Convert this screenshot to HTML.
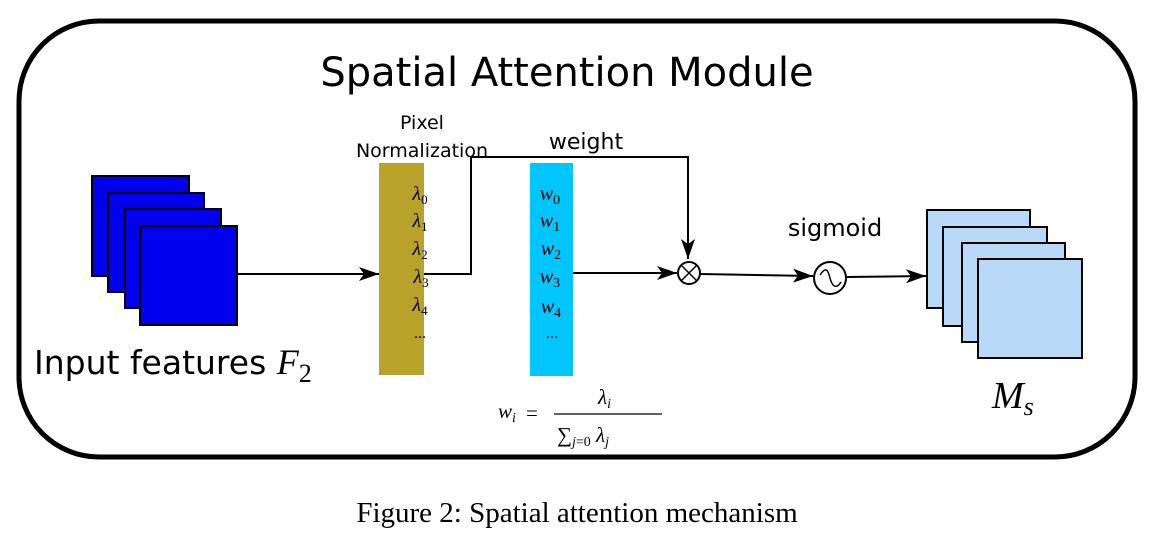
<!DOCTYPE html>
<html><head><meta charset="utf-8"><style>
body{margin:0;background:#fff;width:1157px;height:536px;overflow:hidden}
</style></head><body>
<svg width="1157" height="536" viewBox="0 0 1157 536" xmlns="http://www.w3.org/2000/svg">
<defs><marker id="a" markerWidth="10" markerHeight="10" refX="9" refY="5" orient="auto" markerUnits="userSpaceOnUse"><path d="M0,0 L10,5 L0,10 Z" fill="#000"/></marker>
<marker id="b" viewBox="0 0 20 14" markerWidth="22" markerHeight="14" refX="20" refY="7" orient="auto" markerUnits="userSpaceOnUse"><path d="M0,0 L20,7 L0,14 L5,7 Z" fill="#000"/></marker></defs>
<rect x="19" y="21" width="1116" height="436" rx="80" fill="none" stroke="#000" stroke-width="5"/>
<text x="567" y="86" font-family="DejaVu Sans, sans-serif" font-size="40" text-anchor="middle">Spatial Attention Module</text>
<g fill="#0000ee" stroke="#000" stroke-width="2">
<rect x="92" y="176" width="97" height="100"/><rect x="108" y="193" width="96" height="99"/><rect x="125" y="209" width="96" height="99"/><rect x="140" y="226" width="97" height="99"/></g>
<text x="34" y="374" font-family="DejaVu Sans, sans-serif" font-size="33">Input features <tspan font-family="Liberation Serif, serif" font-style="italic" font-size="36">F</tspan><tspan font-family="Liberation Serif, serif" font-size="26" dy="8">2</tspan></text>
<line x1="237" y1="274" x2="379" y2="274" stroke="#000" stroke-width="2" marker-end="url(#b)"/>
<rect x="379" y="163" width="45" height="212" fill="#b9a22a"/>
<text x="422" y="129" font-family="DejaVu Sans, sans-serif" font-size="19" text-anchor="middle">Pixel</text>
<text x="422" y="157" font-family="DejaVu Sans, sans-serif" font-size="19" text-anchor="middle">Normalization</text>
<g font-family="Liberation Serif, serif" font-style="italic" font-size="20" text-anchor="middle">
<text x="420" y="200">λ<tspan font-style="normal" font-size="13" dy="4">0</tspan></text>
<text x="420" y="227">λ<tspan font-style="normal" font-size="13" dy="4">1</tspan></text>
<text x="420" y="255">λ<tspan font-style="normal" font-size="13" dy="4">2</tspan></text>
<text x="421" y="283">λ<tspan font-style="normal" font-size="13" dy="4">3</tspan></text>
<text x="420" y="311">λ<tspan font-style="normal" font-size="13" dy="4">4</tspan></text>
<text x="420" y="338" font-style="normal" font-size="16">...</text>
<text x="548" y="200">w<tspan font-style="normal" font-size="14" dy="4">0</tspan></text>
<text x="548" y="227">w<tspan font-style="normal" font-size="14" dy="4">1</tspan></text>
<text x="549" y="255">w<tspan font-style="normal" font-size="14" dy="4">2</tspan></text>
<text x="548" y="283">w<tspan font-style="normal" font-size="14" dy="4">3</tspan></text>
<text x="549" y="313">w<tspan font-style="normal" font-size="14" dy="4">4</tspan></text>
<text x="550" y="338" font-style="normal" font-size="16">...</text>
</g>
<rect x="530" y="163" width="43" height="213" fill="#00c5ff"/>
<g font-family="Liberation Serif, serif" font-style="italic" font-size="20" text-anchor="middle">
<text x="550" y="200">w<tspan font-style="normal" font-size="14" dy="4">0</tspan></text>
<text x="550" y="227">w<tspan font-style="normal" font-size="14" dy="4">1</tspan></text>
<text x="551" y="255">w<tspan font-style="normal" font-size="14" dy="4">2</tspan></text>
<text x="550" y="283">w<tspan font-style="normal" font-size="14" dy="4">3</tspan></text>
<text x="551" y="313">w<tspan font-style="normal" font-size="14" dy="4">4</tspan></text>
<text x="552" y="338" font-style="normal" font-size="16">...</text>
</g>
<polyline points="424,274 471,274 471,157 688,157 688,259" fill="none" stroke="#000" stroke-width="2" marker-end="url(#b)"/>
<text x="586" y="149" font-family="DejaVu Sans, sans-serif" font-size="22" text-anchor="middle">weight</text>
<line x1="573" y1="273" x2="677" y2="273" stroke="#000" stroke-width="2" marker-end="url(#b)"/>
<circle cx="689" cy="273" r="11" fill="#fff" stroke="#000" stroke-width="2"/>
<path d="M681,265 L697,281 M697,265 L681,281" stroke="#000" stroke-width="1.5"/>
<line x1="700" y1="274" x2="813" y2="276" stroke="#000" stroke-width="2" marker-end="url(#b)"/>
<circle cx="830" cy="278" r="16" fill="#fff" stroke="#000" stroke-width="2"/>
<path d="M820,275 C826,266 828,270 830,278 C832,286 836,290 841,282" fill="none" stroke="#000" stroke-width="1.5"/>
<text x="835" y="236" font-family="DejaVu Sans, sans-serif" font-size="24" text-anchor="middle">sigmoid</text>
<line x1="847" y1="277" x2="926" y2="276" stroke="#000" stroke-width="2" marker-end="url(#b)"/>
<g fill="#b8d8f8" stroke="#000" stroke-width="2">
<rect x="927" y="210" width="103" height="98"/><rect x="943" y="227" width="104" height="99"/><rect x="962" y="243" width="103" height="99"/><rect x="978" y="259" width="104" height="99"/></g>
<text x="992" y="408" font-family="Liberation Serif, serif" font-style="italic" font-size="38">M<tspan font-size="26" dy="7">s</tspan></text>
<g font-family="Liberation Serif, serif" font-size="21">
<text x="498" y="418" font-style="italic">w<tspan font-size="14" dy="4">i</tspan></text>
<text x="526" y="420">=</text>
<line x1="554" y1="414" x2="662" y2="414" stroke="#000" stroke-width="1.2"/>
<text x="598" y="404" font-style="italic">λ<tspan font-size="14" dy="4">i</tspan></text>
<text x="557" y="442">∑<tspan font-style="italic" font-size="14" dy="4">j</tspan><tspan font-size="14">=0</tspan><tspan font-style="italic" dy="-4"> λ</tspan><tspan font-style="italic" font-size="14" dy="4">j</tspan></text>
</g>
<text x="577" y="522" font-family="Liberation Serif, serif" font-size="29" text-anchor="middle">Figure 2: Spatial attention mechanism</text>
</svg>
</body></html>
